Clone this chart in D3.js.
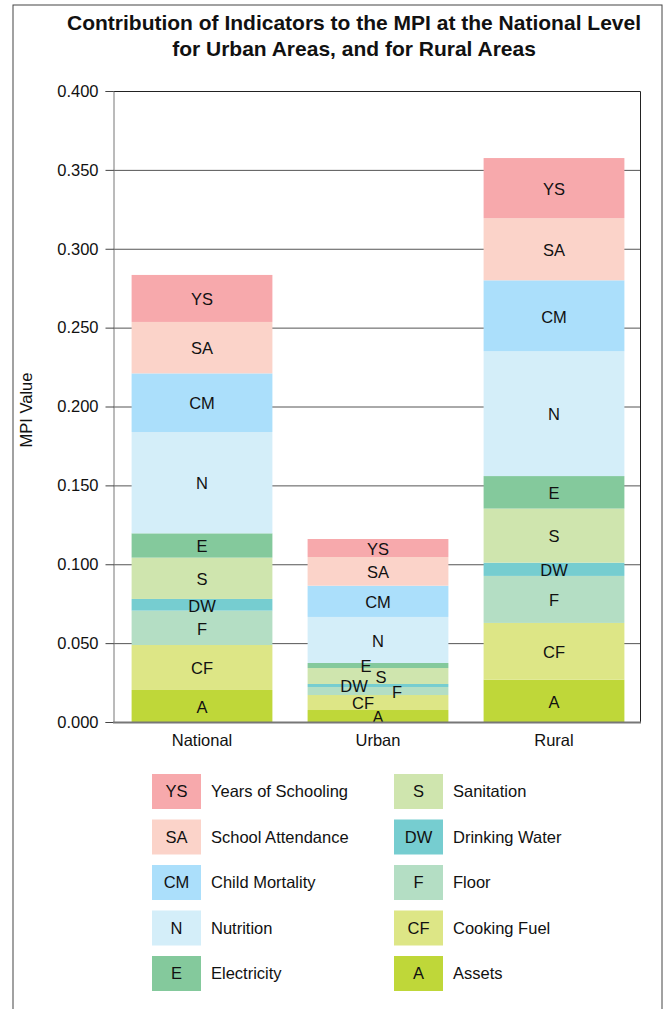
<!DOCTYPE html>
<html>
<head>
<meta charset="utf-8">
<title>Contribution of Indicators to the MPI</title>
<style>
  body { margin: 0; background: #fff; }
  svg text { font-family: "Liberation Sans", Arial, Helvetica, sans-serif; fill: #111; }
</style>
</head>
<body>
<script src="https://cdn.jsdelivr.net/npm/d3@7"></script>
<script>
// data, bottom of stack first
var categories = ["National", "Urban", "Rural"];
var indicators = ["A", "CF", "F", "DW", "S", "E", "N", "CM", "SA", "YS"];
var indicatorNames = ["Assets", "Cooking Fuel", "Floor", "Drinking Water", "Sanitation",
                      "Electricity", "Nutrition", "Child Mortality", "School Attendance", "Years of Schooling"];
var national = [0.0203, 0.0285, 0.0218, 0.0074, 0.0262, 0.0154, 0.0642, 0.0372, 0.0326, 0.0298];
var urban    = [0.0076, 0.0095, 0.0051, 0.0019, 0.0101, 0.0032, 0.0292, 0.0198, 0.0182, 0.0114];
var rural    = [0.0268, 0.0360, 0.0298, 0.0084, 0.0343, 0.0206, 0.0791, 0.0450, 0.0394, 0.0381];
var yTicks = [0, 0.05, 0.1, 0.15, 0.2, 0.25, 0.3, 0.35, 0.4];

var colors = ["#bfd739", "#dde686", "#b4dec4", "#76cdd0", "#cfe5ae",
              "#84c99c", "#d4eef9", "#abdffb", "#fbd3c9", "#f7a9ac"];
// small urban segments have their labels nudged sideways
var urbanDx = {A: 0, CF: -15, F: 19, DW: -24, S: 3, E: -12};

var width = 668, height = 1009;
var plotLeft = 113, plotRight = 640, plotTop = 91, plotBottom = 722;

var svg = d3.select("body").append("svg")
    .attr("width", width)
    .attr("height", height);

svg.append("rect")
    .attr("x", 13).attr("y", 5)
    .attr("width", 649).attr("height", 1020)
    .attr("fill", "#fff")
    .attr("stroke", "#444").attr("stroke-width", 1);

// rows for the stack
var rows = categories.map(function(c, i) {
    var vals = [national, urban, rural][i];
    var row = {category: c};
    indicators.forEach(function(k, j) { row[k] = vals[j]; });
    return row;
});
var series = d3.stack().keys(indicators)(rows);

var x = d3.scaleBand()
    .domain(categories)
    .range([114, 642])
    .paddingInner(0.2)
    .paddingOuter(0.1);

var y = d3.scaleLinear()
    .domain([0, 0.4])
    .range([plotBottom, plotTop]);

// grid
svg.append("g").selectAll("line")
    .data(yTicks.slice(1, -1))
    .enter().append("line")
    .attr("x1", plotLeft).attr("x2", plotRight)
    .attr("y1", function(d) { return y(d) + 0.5; })
    .attr("y2", function(d) { return y(d) + 0.5; })
    .attr("stroke", "#555").attr("stroke-width", 1);

// frame top and right
svg.append("path")
    .attr("d", "M" + plotLeft + "," + (plotTop + 0.5) + "H" + (plotRight + 0.5) + "V" + plotBottom)
    .attr("fill", "none").attr("stroke", "#222");

// bars
var layer = svg.append("g").selectAll("g")
    .data(series)
    .enter().append("g")
    .attr("fill", function(d, i) { return colors[i]; });

layer.selectAll("rect")
    .data(function(d) { return d; })
    .enter().append("rect")
    .attr("x", function(d) { return x(d.data.category); })
    .attr("y", function(d) { return y(d[1]); })
    .attr("height", function(d) { return y(d[0]) - y(d[1]); })
    .attr("width", x.bandwidth());

// segment labels on top of all bars
var labels = svg.append("g");
series.forEach(function(s) {
    labels.selectAll("text.k" + s.key)
        .data(s)
        .enter().append("text")
        .attr("class", "k" + s.key)
        .attr("x", function(d) {
            var dx = (d.data.category == "Urban" && urbanDx[s.key] !== undefined) ? urbanDx[s.key] : 0;
            return x(d.data.category) + x.bandwidth() / 2 + dx;
        })
        .attr("y", function(d) { return (y(d[0]) + y(d[1])) / 2 + 1; })
        .attr("dy", "0.35em")
        .attr("text-anchor", "middle")
        .attr("font-size", 16.5)
        .text(s.key);
});

// y axis
var yAxis = d3.axisLeft(y)
    .tickValues(yTicks)
    .tickSize(8)
    .tickPadding(7)
    .tickFormat(d3.format(".3f"));

var gy = svg.append("g")
    .attr("transform", "translate(" + (plotLeft + 0.5) + ",0)")
    .call(yAxis);
gy.select(".domain").attr("stroke", "#777");
gy.selectAll(".tick line").attr("stroke", "#444");
gy.selectAll(".tick text")
    .attr("font-size", 16.5)
    .attr("font-family", "Liberation Sans, Arial, sans-serif")
    .attr("fill", "#111");

// x axis
var xAxis = d3.axisBottom(x).tickSize(0).tickPadding(12);
var gx = svg.append("g")
    .attr("transform", "translate(0," + plotBottom + ")")
    .call(xAxis);
gx.select(".domain").attr("d", "M" + plotLeft + ",0.5H" + (plotRight + 1))
    .attr("stroke", "#777").attr("stroke-width", 2);
gx.selectAll(".tick text")
    .attr("font-size", 16.5)
    .attr("font-family", "Liberation Sans, Arial, sans-serif")
    .attr("fill", "#111");

svg.append("text")
    .attr("transform", "translate(32,410) rotate(-90)")
    .attr("text-anchor", "middle")
    .attr("font-size", 16.5)
    .text("MPI Value");

// title
var title = svg.append("text")
    .attr("x", 354).attr("y", 30)
    .attr("text-anchor", "middle")
    .attr("font-size", 21)
    .attr("font-weight", "bold");
title.append("tspan").attr("x", 354).text("Contribution of Indicators to the MPI at the National Level");
title.append("tspan").attr("x", 354).attr("dy", 25.5).text("for Urban Areas, and for Rural Areas");

// legend, top of stack first
var legendOrder = indicators.slice().reverse();
var legend = svg.append("g").selectAll("g")
    .data(legendOrder)
    .enter().append("g")
    .attr("transform", function(d, i) {
        var col = Math.floor(i / 5), row = i % 5;
        return "translate(" + (152 + col * 242) + "," + (774 + row * 45.5) + ")";
    });

legend.append("rect")
    .attr("width", 49).attr("height", 35)
    .attr("fill", function(d) { return colors[indicators.indexOf(d)]; });

legend.append("text")
    .attr("x", 24.5).attr("y", 17.5).attr("dy", "0.35em")
    .attr("text-anchor", "middle")
    .attr("font-size", 16.5)
    .text(function(d) { return d; });

legend.append("text")
    .attr("x", 59).attr("y", 17.5).attr("dy", "0.35em")
    .attr("font-size", 16.5)
    .text(function(d) { return indicatorNames[indicators.indexOf(d)]; });
</script>
</body>
</html>
